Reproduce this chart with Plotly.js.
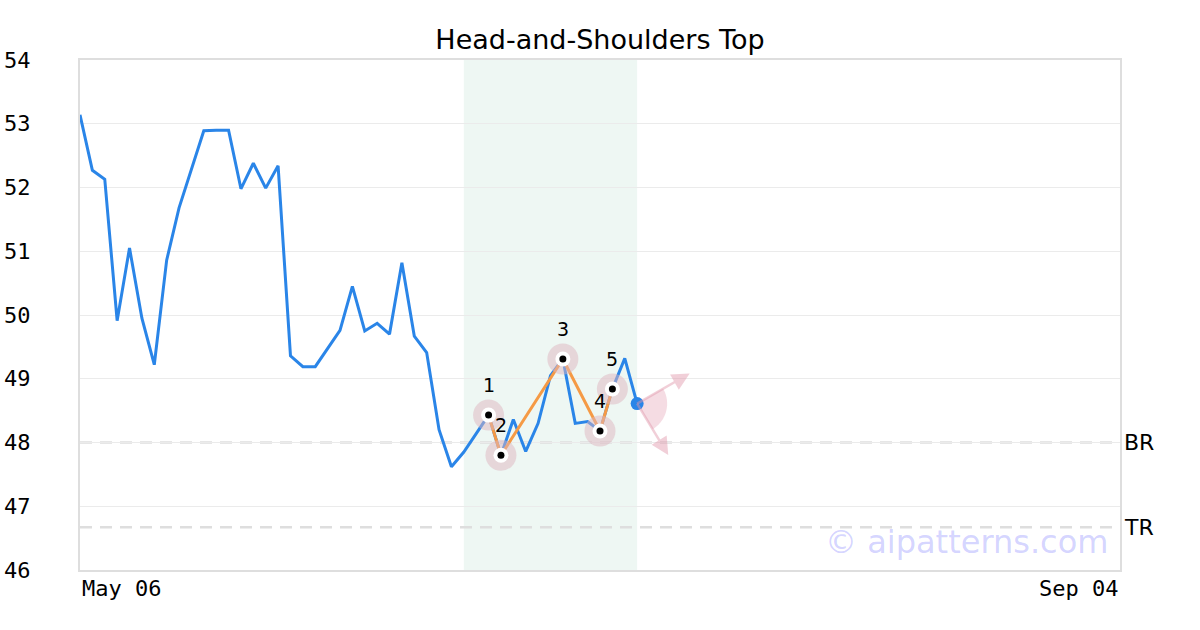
<!DOCTYPE html>
<html>
<head>
<meta charset="utf-8">
<script src="https://cdn.plot.ly/plotly-3.0.1.min.js"></script>
<style>
  html, body { margin: 0; padding: 0; background: #ffffff; }
  #chart { width: 1200px; height: 630px; }
</style>
</head>
<body>
<div id="chart"></div>
<script>
// ---- Data ----
const chartTitle = 'Head-and-Shoulders Top';
const priceIndex = [0,1,2,3,4,5,6,7,8,9,10,11,12,13,14,15,16,17,18,19,20,21,22,23,24,25,26,27,28,29,30,31,32,33,34,35,36,37,38,39,40,41,42,43,44,45];
const priceValues = [53.14,52.27,52.13,49.91,51.05,49.95,49.22,50.86,51.68,52.28,52.89,52.90,52.90,51.98,52.38,51.99,52.34,49.36,49.19,49.19,49.48,49.76,50.45,49.75,49.87,49.70,50.82,49.67,49.41,48.20,47.62,47.85,48.14,48.43,47.80,48.36,47.86,48.30,49.05,49.31,48.30,48.33,48.18,48.84,49.32,48.61];
const patternIndex = [33,34,39,42,43];
const patternValues = [48.43,47.80,49.31,48.18,48.84];
const patternLabels = ['1','2','3','4','5'];
const xTickIndex = [0, 84];
const xTickLabels = ['May 06', 'Sep 04'];
const yTickValues = [46,47,48,49,50,51,52,53,54];
const levelNames = ['BR', 'TR'];
const levelValues = [48.0, 46.67];
const zoneStart = 31, zoneEnd = 45;
const watermark = '\u00a9 aipatterns.com';

// ---- Styles ----
const mono = 'DejaVu Sans Mono';
const sans = 'DejaVu Sans';
const blue = '#2a85e8';
const orange = '#f59a45';

const lastIdx = priceIndex[priceIndex.length - 1];
const lastVal = priceValues[priceValues.length - 1];

const traces = [
  { x: priceIndex, y: priceValues, type: 'scatter', mode: 'lines',
    line: { color: blue, width: 3 }, hoverinfo: 'skip' },
  { x: patternIndex, y: patternValues, type: 'scatter', mode: 'lines',
    line: { color: orange, width: 3 }, hoverinfo: 'skip' },
  { x: patternIndex, y: patternValues, type: 'scatter', mode: 'markers',
    marker: { color: 'rgba(222,182,192,0.5)', size: 31 }, hoverinfo: 'skip' },
  { x: patternIndex, y: patternValues, type: 'scatter', mode: 'markers',
    marker: { color: '#ffffff', size: 15 }, hoverinfo: 'skip' },
  { x: patternIndex, y: patternValues, type: 'scatter', mode: 'markers',
    marker: { color: '#000000', size: 7 }, hoverinfo: 'skip' },
  { x: [lastIdx], y: [lastVal], type: 'scatter', mode: 'markers',
    marker: { color: blue, size: 13 }, hoverinfo: 'skip' }
];

// wedge path in pixel offsets (y up)
function wedgePath(r, a1, a2, n) {
  let p = 'M 0 0';
  for (let i = 0; i <= n; i++) {
    const a = (a1 + (a2 - a1) * i / n) * Math.PI / 180;
    p += ' L ' + (r * Math.cos(a)).toFixed(2) + ' ' + (r * Math.sin(a)).toFixed(2);
  }
  return p + ' Z';
}

const shapes = [
  { type: 'rect', xref: 'x', yref: 'paper', x0: zoneStart, x1: zoneEnd, y0: 0, y1: 1,
    fillcolor: '#eef7f3', line: { width: 0 }, layer: 'below' }
];
levelValues.forEach(v => shapes.push({
  type: 'line', xref: 'paper', yref: 'y', x0: 0, x1: 1, y0: v, y1: v,
  line: { color: '#dedede', width: 2.5, dash: '12px,8px' }, layer: 'below'
}));
shapes.push({
  type: 'path', xref: 'x', yref: 'y', xsizemode: 'pixel', ysizemode: 'pixel',
  xanchor: lastIdx, yanchor: lastVal, path: wedgePath(30, 30, -59, 40),
  fillcolor: 'rgba(225,150,170,0.33)', line: { width: 0 }, layer: 'below'
});

const annotations = [];
patternIndex.forEach((xi, i) => annotations.push({
  x: xi, y: patternValues[i], xref: 'x', yref: 'y', text: patternLabels[i],
  showarrow: false, yshift: 30, font: { family: sans, size: 19, color: '#000' }
}));
levelValues.forEach((v, i) => annotations.push({
  x: 1, y: v, xref: 'paper', yref: 'y', text: levelNames[i], showarrow: false,
  xanchor: 'left', yanchor: 'middle', xshift: 2, font: { family: sans, size: 22, color: '#000' }
}));
xTickIndex.forEach((xi, i) => annotations.push({
  x: xi, y: 0, xref: 'x', yref: 'paper', text: xTickLabels[i], showarrow: false,
  xanchor: i === 0 ? 'left' : 'right', yanchor: 'middle', yshift: -18,
  font: { family: mono, size: 22, color: '#000' }
}));
annotations.push({
  x: 0.99, y: 0.055, xref: 'paper', yref: 'paper', text: watermark, showarrow: false,
  xanchor: 'right', yanchor: 'middle', font: { family: sans, size: 32, color: 'rgba(110,110,255,0.3)' }
});
// direction arrows from the last point
[[54, -31], [32, 53]].forEach(d => annotations.push({
  x: lastIdx, y: lastVal, xref: 'x', yref: 'y', ax: d[0], ay: d[1], text: '',
  showarrow: true, arrowside: 'start', startarrowhead: 2, startarrowsize: 1.4,
  arrowwidth: 2.5, arrowcolor: 'rgba(225,150,170,0.45)', standoff: 0, startstandoff: 0
}));

const layout = {
  width: 1200, height: 630,
  margin: { l: 80, r: 80, t: 60, b: 60 },
  paper_bgcolor: '#ffffff', plot_bgcolor: '#ffffff',
  showlegend: false,
  title: { text: chartTitle, x: 0.5, xanchor: 'center', y: 1 - 40 / 630, yanchor: 'middle',
    font: { family: sans, size: 27, color: '#000' } },
  xaxis: { range: [xTickIndex[0], xTickIndex[1]], showgrid: false, zeroline: false,
    showticklabels: false, ticks: '', showline: true, mirror: true,
    linecolor: '#dedede', linewidth: 2, fixedrange: true },
  yaxis: { range: [46, 54], tickvals: yTickValues, ticktext: yTickValues.map(String),
    showgrid: true, gridcolor: '#ebebeb', gridwidth: 1, zeroline: false,
    ticks: '', ticklabelstandoff: 43, showline: true, mirror: true,
    linecolor: '#dedede', linewidth: 2,
    tickfont: { family: mono, size: 22, color: '#000' }, fixedrange: true },
  shapes: shapes,
  annotations: annotations
};

Plotly.newPlot('chart', traces, layout, { displayModeBar: false, staticPlot: true });
</script>
</body>
</html>
